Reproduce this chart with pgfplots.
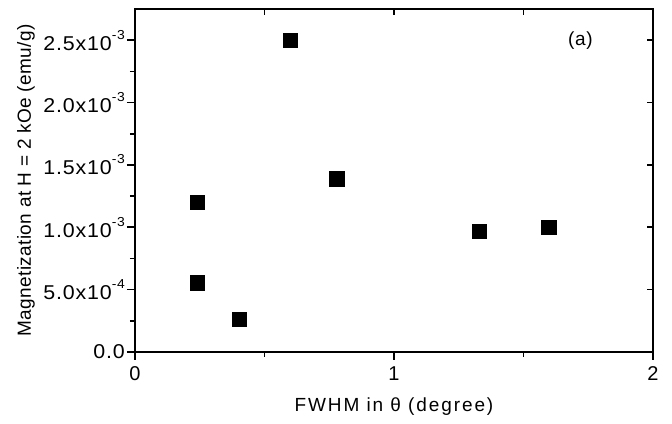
\documentclass[border=0pt]{standalone}
\usepackage{fontspec}
\usepackage{graphicx}
\setmainfont{Liberation Sans}
\newfontfamily\tickfont[LetterSpace=4]{Liberation Sans}
\newfontfamily\xlabfont[LetterSpace=10]{Liberation Sans}
\newfontfamily\ylabfont[LetterSpace=2]{Liberation Sans}
\newcommand{\sci}[2]{\scalebox{1.07}[1]{#1x10\raisebox{0.55em}{\fontsize{13}{13}\selectfont #2}}}
\usepackage{pgfplots}
\pgfplotsset{compat=1.18}
\begin{document}
\fontsize{19}{22}\selectfont
\begin{tikzpicture}
\begin{axis}[
  scale only axis,
  width=518pt, height=343pt,
  xmin=0, xmax=2, ymin=0, ymax=0.00275,
  axis line style={line width=2pt},
  every tick/.style={line width=1.6pt, black},
  tick align=outside,
  xtick pos=left, ytick pos=left,
  major tick length=8pt, minor tick length=5pt,
  xtick={0,1,2}, minor xtick={0.5,1.5},
  ytick={0,0.0005,0.001,0.0015,0.002,0.0025},
  minor ytick={0.00025,0.00075,0.00125,0.00175,0.00225},
  scaled ticks=false,
  xticklabels={0,1,2},
  yticklabels={\scalebox{1.07}[1]{0.0}, \sci{5.0}{-4}, \sci{1.0}{-3}, \sci{1.5}{-3}, \sci{2.0}{-3}, \sci{2.5}{-3}},
  ticklabel style={font=\fontsize{20}{22}\tickfont},
  yticklabel style={inner sep=2pt},
  xlabel={FWHM in θ (degree)},
  ylabel={Magnetization at H = 2 kOe (emu/g)},
  xlabel style={font=\fontsize{19}{22}\xlabfont, yshift=-4pt},
  ylabel style={font=\fontsize{19}{22}\ylabfont},
  clip=false,
]
\addplot[only marks, mark=square*, mark size=7.2pt, mark options={fill=black, draw=black, line width=0.3pt}] coordinates {
(0.600,0.002498)
(0.779,0.001389)
(0.241,0.00120)
(1.328,0.000967)
(1.597,0.000999)
(0.241,0.000555)
(0.403,0.000264)
};
\node[font=\fontsize{19}{22}\tickfont] at (axis cs:1.72,0.002498) {(a)};
\pgfplotsinvokeforeach{0.5,1,1.5}{
  \draw[line width=1.6pt] (axis cs:#1,0.00275) -- ++(0,-6pt);
}
\pgfplotsinvokeforeach{0.0005,0.001,0.0015,0.002,0.0025}{
  \draw[line width=1.6pt] (axis cs:2,#1) -- ++(-6pt,0);
}
\coordinate (bl) at (rel axis cs:-0.2606,-0.2099);
\coordinate (tr) at (rel axis cs:1.0367,1.0262);
\end{axis}
\pgfresetboundingbox
\path (bl) rectangle (tr);
\end{tikzpicture}
\end{document}
